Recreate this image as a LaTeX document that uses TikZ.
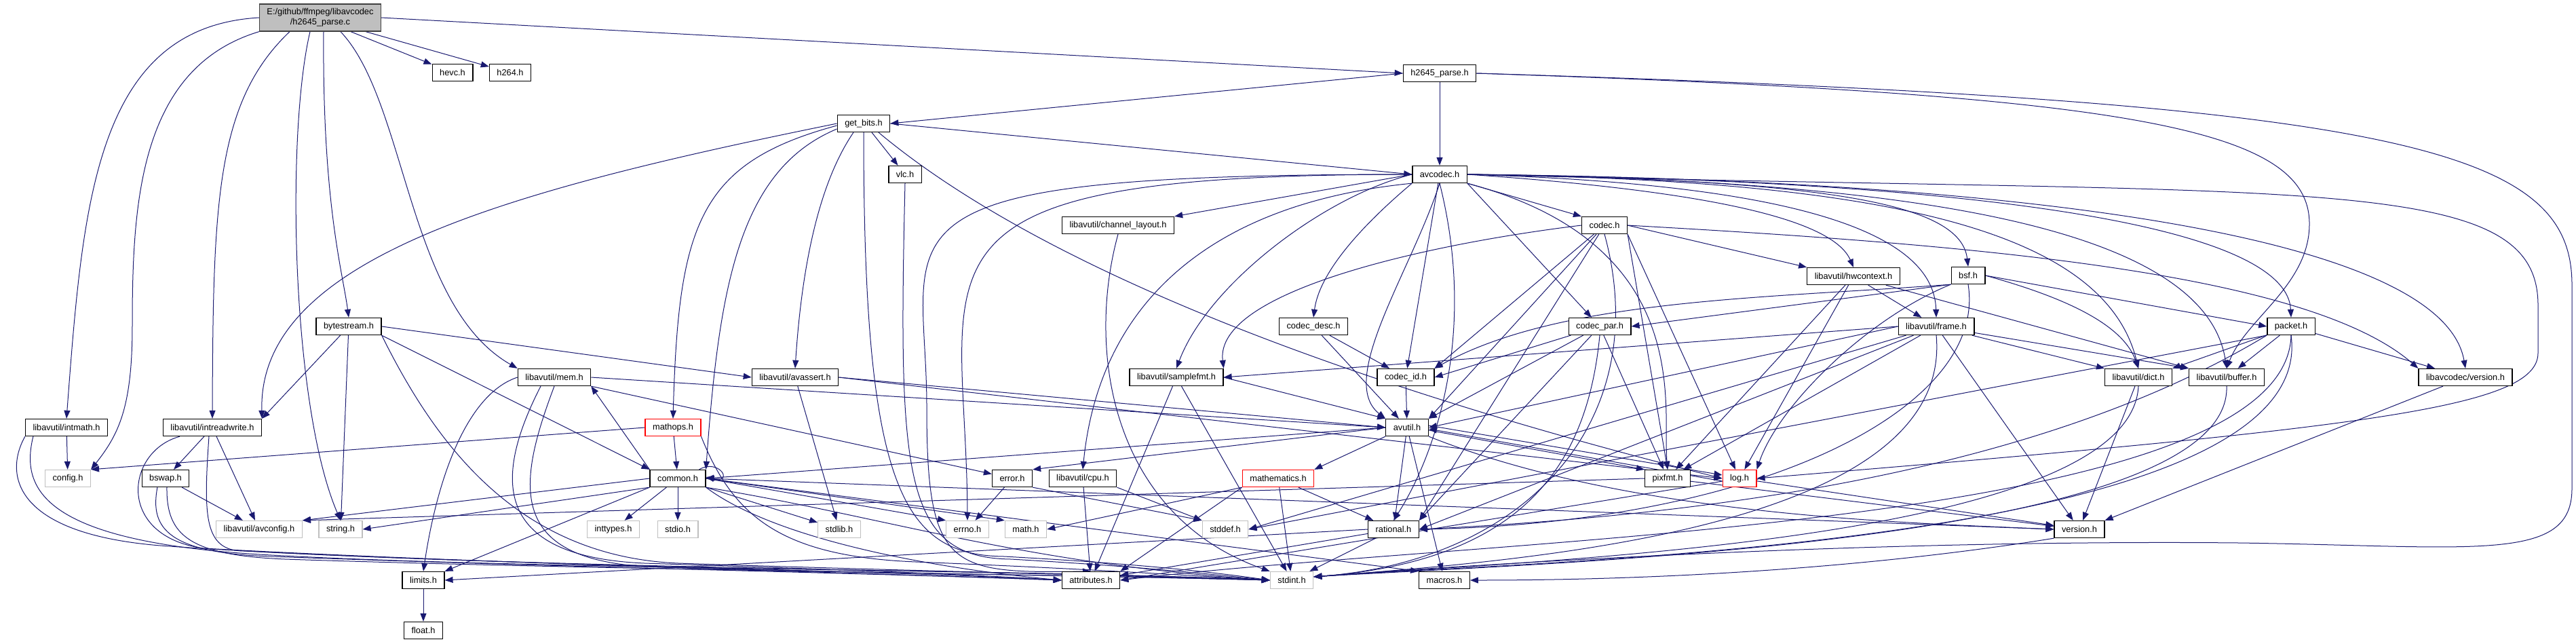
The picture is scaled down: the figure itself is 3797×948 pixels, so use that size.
\documentclass[tikz,border=0pt]{standalone}
\usepackage{fontspec}
\setmainfont{Liberation Sans}
\usepackage{tikz}
\usetikzlibrary{arrows.meta}
\definecolor{edgeblue}{RGB}{25,25,112}
\definecolor{sysgray}{RGB}{191,191,191}
\definecolor{rootfill}{RGB}{191,191,191}
\pgfdeclarelayer{bg}
\pgfsetlayers{bg,main}

\begin{document}
\begin{tikzpicture}[x=1pt, y=-1pt, font=\fontsize{12.8}{15}\selectfont,
  filebox/.style={draw=black, line width=1.3pt, fill=white,
    minimum height=25pt, inner xsep=11pt, inner ysep=2pt},
  sysbox/.style={filebox, draw=sysgray},
  cutbox/.style={filebox, draw=red},
  rootbox/.style={filebox, draw=black!75, fill=rootfill,
    align=center, minimum height=40pt},
  dep/.style={draw=edgeblue, line width=1pt,
    -{Triangle[length=12pt,width=9pt]}}]
\useasboundingbox (0,0) rectangle (3797,948);
% ---- files (top to bottom) ----
\node[rootbox] (root) at (472,26) {E:/github/ffmpeg/libavcodec\\/h2645\_parse.c};
\node[filebox] (hevc) at (667,107) {hevc.h};
\node[filebox] (hsixfour) at (752,107) {h264.h};
\node[filebox] (hparse) at (2122,108) {h2645\_parse.h};
\node[filebox] (getbits) at (1273,182) {get\_bits.h};
\node[filebox] (vlc) at (1334,257) {vlc.h};
\node[filebox] (avcodec) at (2122,257) {avcodec.h};
\node[filebox] (chlayout) at (1648,332) {libavutil/channel\_layout.h};
\node[filebox] (codec) at (2365,332) {codec.h};
\node[filebox] (hwctx) at (2732,407) {libavutil/hwcontext.h};
\node[filebox] (bsf) at (2901,406) {bsf.h};
\node[filebox] (bytestream) at (514,481) {bytestream.h};
\node[filebox] (codecdesc) at (1936,481) {codec\_desc.h};
\node[filebox] (codecpar) at (2358,481) {codec\_par.h};
\node[filebox] (frame) at (2854,481) {libavutil/frame.h};
\node[filebox] (packet) at (3377,481) {packet.h};
\node[filebox] (mem) at (817,556) {libavutil/mem.h};
\node[filebox] (avassert) at (1172,556) {libavutil/avassert.h};
\node[filebox] (samplefmt) at (1734,556) {libavutil/samplefmt.h};
\node[filebox] (codecid) at (2072,556) {codec\_id.h};
\node[filebox] (dict) at (3152,556) {libavutil/dict.h};
\node[filebox] (buffer) at (3282,556) {libavutil/buffer.h};
\node[filebox] (avcversion) at (3634,556) {libavcodec/version.h};
\node[filebox] (intmath) at (98,630) {libavutil/intmath.h};
\node[filebox] (intrw) at (313,630) {libavutil/intreadwrite.h};
\node[cutbox] (mathops) at (992,630) {mathops.h};
\node[filebox] (avutil) at (2074,630) {avutil.h};
\node[sysbox] (config) at (100,705) {config.h};
\node[filebox] (bswap) at (244,705) {bswap.h};
\node[filebox] (common) at (999,705) {common.h};
\node[filebox] (error) at (1492,705) {error.h};
\node[filebox] (cpu) at (1596,705) {libavutil/cpu.h};
\node[cutbox] (mathem) at (1884,705) {mathematics.h};
\node[filebox] (pixfmt) at (2458,705) {pixfmt.h};
\node[cutbox] (log) at (2564,705) {log.h};
\node[sysbox] (avconfig) at (382,780) {libavutil/avconfig.h};
\node[sysbox] (string) at (502,780) {string.h};
\node[sysbox] (inttypes) at (904,780) {inttypes.h};
\node[sysbox] (stdio) at (999,780) {stdio.h};
\node[sysbox] (stdlib) at (1237,780) {stdlib.h};
\node[sysbox] (errno) at (1426,780) {errno.h};
\node[sysbox] (math) at (1512,780) {math.h};
\node[sysbox] (stddef) at (1806,780) {stddef.h};
\node[filebox] (rational) at (2054,780) {rational.h};
\node[filebox] (version) at (3065,780) {version.h};
\node[filebox] (limits) at (624,855) {limits.h};
\node[filebox] (attributes) at (1608,855) {attributes.h};
\node[sysbox] (stdint) at (1904,855) {stdint.h};
\node[filebox] (macros) at (2129,855) {macros.h};
\node[filebox] (float) at (624,929) {float.h};

\begin{pgfonlayer}{bg}
% ---- h2645_parse.c ----
\draw[dep] (root.west) .. controls (140,40) and (122,300) .. (intmath.north);
\draw[dep] (root.south west) .. controls (205,100) and (195,300) .. (195,480) .. controls (195,600) and (175,640) .. (config.north east);
\draw[dep] ([xshift=-45pt]root.south) .. controls (318,150) and (314,300) .. (intrw.north);
\draw[dep] ([xshift=-15pt]root.south) .. controls (421,200) and (430,600) .. (string.north);
\draw[dep] ([xshift=5pt]root.south) .. controls (475,300) and (505,400) .. (bytestream.north);
\draw[dep] ([xshift=30pt]root.south) .. controls (600,150) and (600,450) .. (mem.north west);
\draw[dep] ([xshift=45pt]root.south) -- (hevc);
\draw[dep] ([xshift=67pt]root.south) -- (hsixfour);
\draw[dep] (root.east) -- (hparse.west);

% ---- h2645_parse.h ----
\draw[dep] (hparse.west) -- (getbits.east);
\draw[dep] (hparse) -- (avcodec);
\draw[dep] (hparse.east) .. controls (3150,140) and (3404,190) .. (3404,330) .. controls (3404,420) and (3310,470) .. (buffer.north);
\draw[dep] (hparse.east) .. controls (3550,150) and (3791,220) .. (3791,420) -- (3791,720) .. controls (3791,830) and (3650,805) .. (3300,800) .. controls (2800,795) and (2250,826) .. ([yshift=5pt]stdint.east);

% ---- get_bits.h ----
\draw[dep] (getbits.west) .. controls (750,280) and (380,380) .. (intrw.north east);
\draw[dep] ([yshift=-3pt]getbits.west) .. controls (1030,240) and (1000,330) .. (mathops.north);
\draw[dep] ([yshift=-8pt]getbits.west) .. controls (1090,250) and (1060,420) .. (common.north east);
\draw[dep] ([xshift=-15pt]getbits.south) .. controls (1200,280) and (1180,420) .. (avassert.north);
\draw[dep] (getbits.south) .. controls (1273,720) and (1330,818) .. (1480,820) .. controls (1700,832) and (1800,845) .. (stdint.west);
\draw[dep] ([xshift=12pt]getbits.south) -- (vlc);
\draw[dep] ([xshift=22pt]getbits.south) .. controls (1600,450) and (2200,620) .. (log.west);
\draw[dep] (getbits.east) -- (avcodec.west);
\draw[dep] (vlc.south) .. controls (1324,700) and (1330,822) .. (1490,824) .. controls (1700,836) and (1800,848) .. (stdint.west);

% ---- avcodec.h ----
\draw[dep] (avcodec.west) .. controls (1300,257) and (1424,380) .. (errno.north);
\draw[dep] (avcodec.west) .. controls (1250,257) and (1366,330) .. (1366,600) .. controls (1366,840) and (1400,845) .. (attributes.north);
\draw[dep] (avcodec.west) .. controls (1950,290) and (1780,420) .. (samplefmt.north);
\draw[dep] (avcodec.west) -- (chlayout.north east);
\draw[dep] (avcodec.south west) .. controls (1780,300) and (1620,450) .. (cpu.north);
\draw[dep] (avcodec.south west) .. controls (2010,330) and (1945,400) .. (codecdesc.north);
\draw[dep] (avcodec) -- (codecid);
\draw[dep] (avcodec.south) .. controls (2080,400) and (1970,560) .. (avutil.north west);
\draw[dep] (avcodec.south east) -- (codecpar);
\draw[dep] (avcodec.south east) -- (codec.north west);
\draw[dep] (avcodec.south east) .. controls (2500,360) and (2450,600) .. (pixfmt.north);
\draw[dep] (avcodec.east) .. controls (2500,280) and (2700,320) .. (hwctx.north);
\draw[dep] (avcodec.east) .. controls (2600,270) and (2850,330) .. (frame.north);
\draw[dep] (avcodec.east) .. controls (2700,265) and (2890,300) .. (bsf.north);
\draw[dep] (avcodec.east) .. controls (2750,265) and (3100,330) .. (dict.north);
\draw[dep] (avcodec.east) .. controls (2800,265) and (3250,330) .. (buffer.north);
\draw[dep] (avcodec.east) .. controls (2900,265) and (3370,330) .. (packet.north);
\draw[dep] (avcodec.east) .. controls (3000,265) and (3600,350) .. (avcversion.north);
\draw[dep] (avcodec.east) .. controls (3400,290) and (3741,250) .. (3741,450) -- (3741,520) .. controls (3741,600) and (3500,630) .. (log.east);
\draw[dep] (avcodec.south) .. controls (2180,500) and (2110,680) .. (rational.north);

% ---- codec.h, codec_desc.h, codec_par.h, codec_id.h ----
\draw[dep] (codec.west) .. controls (2100,360) and (1790,430) .. (samplefmt.north east);
\draw[dep] (codec) -- (codecid.north east);
\draw[dep] (codec) -- (avutil.north east);
\draw[dep] (codec.east) -- (hwctx.north west);
\draw[dep] (codec.south east) -- (pixfmt.north);
\draw[dep] (codec.south east) -- (log);
\draw[dep] (codec) -- (rational.north east);
\draw[dep] (codec.east) .. controls (2900,360) and (3400,400) .. (avcversion.north west);
\draw[dep] (codec.south) .. controls (2440,620) and (2250,826) .. ([yshift=5pt]stdint.east);
\draw[dep] (codecdesc) -- (avutil);
\draw[dep] (codecdesc) -- (codecid);
\draw[dep] (codecpar) -- (codecid.east);
\draw[dep] (codecpar) -- (avutil.north east);
\draw[dep] (codecpar) -- (rational.north east);
\draw[dep] (codecpar) -- (pixfmt);
\draw[dep] (codecpar.south) .. controls (2340,680) and (2250,826) .. ([yshift=5pt]stdint.east);
\draw[dep] (codecid) -- (avutil);

% ---- hwcontext.h, bsf.h ----
\draw[dep] (hwctx) -- (buffer.north west);
\draw[dep] (hwctx) -- (frame);
\draw[dep] (hwctx) -- (log);
\draw[dep] (hwctx) -- (pixfmt);
\draw[dep] (bsf.south west) .. controls (2600,440) and (2300,440) .. (codecid.north east);
\draw[dep] (bsf.south west) -- (codecpar.east);
\draw[dep] (bsf.east) -- (packet.west);
\draw[dep] (bsf.east) .. controls (3050,440) and (3130,480) .. (dict.north);
\draw[dep] (bsf.south west) .. controls (2750,470) and (2620,600) .. (log.north east);
\draw[dep] (bsf.south) .. controls (2930,600) and (2600,770) .. (rational.east);

% ---- frame.h, packet.h ----
\draw[dep] (frame.west) -- (samplefmt.east);
\draw[dep] (frame.west) -- (avutil.east);
\draw[dep] (frame) -- (buffer.north west);
\draw[dep] (frame) -- (dict.north west);
\draw[dep] (frame) -- (pixfmt);
\draw[dep] (frame) -- (rational.east);
\draw[dep] (frame) -- (version);
\draw[dep] (frame) -- (stddef.east);
\draw[dep] (frame.south) .. controls (2880,780) and (2250,826) .. ([yshift=5pt]stdint.east);
\draw[dep] (packet) -- (dict.north east);
\draw[dep] (packet) -- (buffer);
\draw[dep] (packet) -- (avcversion);
\draw[dep] (packet.south west) .. controls (3000,700) and (2500,760) .. (rational.east);
\draw[dep] (packet.south west) -- (stddef.east);
\draw[dep] (packet.south) .. controls (3370,780) and (2200,790) .. (attributes.east);
\draw[dep] (packet.south) .. controls (3420,810) and (2250,826) .. ([yshift=5pt]stdint.east);

% ---- dict.h, buffer.h, version.h ----
\draw[dep] (dict) -- (version);
\draw[dep] (dict.south) .. controls (3140,800) and (2250,826) .. ([yshift=5pt]stdint.east);
\draw[dep] (buffer.south) .. controls (3290,805) and (2250,830) .. ([yshift=5pt]stdint.east);
\draw[dep] (avcversion) -- (version.north east);
\draw[dep] (version.south west) .. controls (2800,830) and (2500,855) .. (macros.east);

% ---- samplefmt.h, channel_layout.h, avassert.h ----
\draw[dep] (samplefmt.east) -- (avutil.north west);
\draw[dep] (samplefmt) -- (attributes);
\draw[dep] (samplefmt) -- (stdint);
\draw[dep] (chlayout.south) .. controls (1600,520) and (1640,760) .. (stdint.north west);
\draw[dep] (avassert) -- (stdlib);
\draw[dep] (avassert.east) -- (avutil.west);
\draw[dep] (avassert.east) -- (log.west);

% ---- mem.h, bytestream.h ----
\draw[dep] (mem.east) -- (avutil.west);
\draw[dep] (mem.south east) -- (error);
\draw[dep] (mem.west) .. controls (690,580) and (645,700) .. (limits.north);
\draw[dep] ([xshift=-20pt]mem.south) .. controls (730,700) and (720,820) .. (950,830) .. controls (1200,838) and (1400,845) .. (attributes.west);
\draw[dep] (mem.south) .. controls (760,720) and (745,832) .. (980,836) .. controls (1300,845) and (1700,850) .. (stdint.west);
\draw[dep] (bytestream) -- (intrw.north east);
\draw[dep] (bytestream) -- (string);
\draw[dep] (bytestream.south east) -- (common.north west);
\draw[dep] (bytestream.east) -- (avassert.west);
\draw[dep] (bytestream.south east) .. controls (640,650) and (760,820) .. (1000,830) .. controls (1300,840) and (1650,848) .. (stdint.west);

% ---- intmath.h, intreadwrite.h, bswap.h, mathops.h ----
\draw[dep] (intmath) -- (config);
\draw[dep] (intmath.south west) .. controls (5,700) and (20,790) .. (250,805) .. controls (600,830) and (1300,840) .. (attributes.west);
\draw[dep] ([xshift=12pt]intmath.south west) .. controls (30,720) and (60,800) .. (400,818) .. controls (800,840) and (1500,838) .. (stdint.west);
\draw[dep] (intrw) -- (bswap);
\draw[dep] (intrw) -- (avconfig);
\draw[dep] ([xshift=-48pt]intrw.south) .. controls (185,665) and (170,790) .. (300,808) .. controls (700,830) and (1300,845) .. (attributes.west);
\draw[dep] ([xshift=-5pt]intrw.south) .. controls (300,760) and (300,812) .. (360,812) .. controls (900,840) and (1500,840) .. (stdint.west);
\draw[dep] (bswap) -- (avconfig);
\draw[dep] ([xshift=-12pt]bswap.south) .. controls (220,780) and (250,815) .. (400,820) .. controls (800,835) and (1300,845) .. (attributes.west);
\draw[dep] ([xshift=2pt]bswap.south) .. controls (245,790) and (280,818) .. (420,824) .. controls (900,840) and (1500,845) .. (stdint.west);
\draw[dep] (mathops) -- (common);
\draw[dep] (mathops.west) -- (config.north east);
\draw[dep] (mathops.south east) .. controls (1080,760) and (1150,820) .. (1350,828) .. controls (1600,838) and (1750,848) .. (stdint.west);

% ---- common.h ----
\draw[dep] (common.west) -- (avconfig.north east);
\draw[dep] (common.south west) -- (string.east);
\draw[dep] (common) -- (inttypes);
\draw[dep] (common) -- (stdio);
\draw[dep] (common) -- (stdlib);
\draw[dep] (common.east) -- (errno.north west);
\draw[dep] (common.east) -- (math.north west);
\draw[dep] (common.south west) -- (limits.north east);
\draw[dep] (common.south east) .. controls (1150,800) and (1400,840) .. (attributes.west);
\draw[dep] (common.south east) .. controls (1300,760) and (1500,830) .. (stdint.west);
\draw[dep] (common.east) -- (macros.north west);
\draw[dep] (common.east) -- (version.west);
\draw[dep] (common.north west) -- (mem.south east);
\draw[dep] ([xshift=-10pt]common.north east) .. controls (1060,675) and (1082,712) .. ([yshift=2pt]common.east);

% ---- avutil.h ----
\draw[dep] (avutil.west) -- (common.east);
\draw[dep] (avutil.west) -- (error.north east);
\draw[dep] (avutil) -- (rational);
\draw[dep] (avutil) -- (macros);
\draw[dep] (avutil.south west) -- (mathem.north east);
\draw[dep] ([yshift=3pt]avutil.east) -- ([yshift=5pt]log.west);
\draw[dep] ([yshift=-4pt]avutil.east) -- (pixfmt.north west);
\draw[dep] (avutil.south east) .. controls (2400,760) and (2800,770) .. (version.west);

% ---- leaves ----
\draw[dep] (error) -- (errno);
\draw[dep] (error.south east) -- (stddef.north west);
\draw[dep] (cpu) -- (attributes);
\draw[dep] (cpu.south east) -- (stddef.north west);
\draw[dep] (mathem.south west) -- (math.east);
\draw[dep] (mathem.south west) -- (attributes.north east);
\draw[dep] (mathem) -- (rational);
\draw[dep] (mathem) -- (stdint);
\draw[dep] ([yshift=-4pt]log.west) -- ([yshift=-2pt]avutil.east);
\draw[dep] (log) -- (attributes.east);
\draw[dep] (log) -- (version);
\draw[dep] (rational) -- (stdint);
\draw[dep] (rational.west) -- (limits.east);
\draw[dep] (rational) -- (attributes);
\draw[dep] (pixfmt.west) -- (avconfig.north east);
\draw[dep] (pixfmt) -- (version);
\draw[dep] (limits) -- (float);
\end{pgfonlayer}
\end{tikzpicture}
\end{document}
